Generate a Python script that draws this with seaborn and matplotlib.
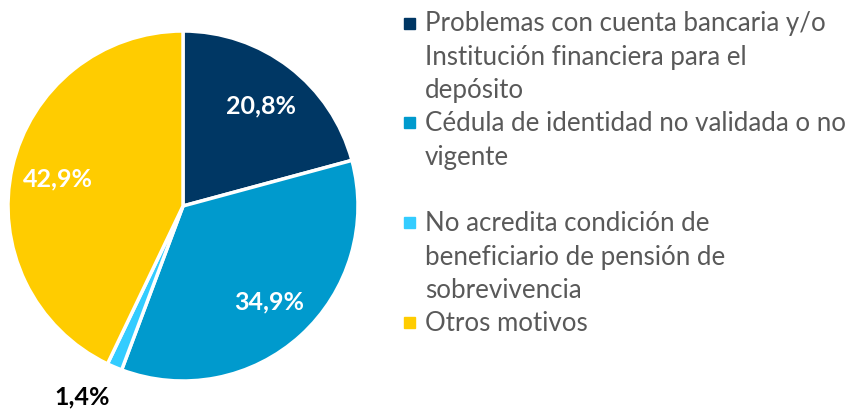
import numpy as np
import seaborn as sns
import matplotlib.pyplot as plt

# Datos
categorias = [
    "Problemas con cuenta bancaria y/o\nInstitución financiera para el\ndepósito",
    "Cédula de identidad no validada o no\nvigente\n",
    "No acredita condición de\nbeneficiario de pensión de\nsobrevivencia",
    "Otros motivos",
]
porcentajes = [20.8, 34.9, 1.4, 42.9]
etiquetas = ["20,8%", "34,9%", "1,4%", "42,9%"]
colores = ["#003764", "#009ACD", "#33CCFF", "#FFCC00"]

sns.set_theme(style="white")
plt.rcParams["font.family"] = ["Lato", "DejaVu Sans"]

fig = plt.figure(figsize=(8.49, 4.10), dpi=100)
W, H = 849, 410
cx, cy, r = 183, 207, 175
ax = fig.add_axes([(cx - r) / W, (H - cy - r) / H, 2 * r / W, 2 * r / H])

paleta = sns.color_palette(colores)
wedges, _ = ax.pie(porcentajes, colors=paleta, startangle=90, counterclock=False,
                   wedgeprops=dict(edgecolor="white", linewidth=2.5))
ax.set_aspect("equal")
ax.set_xlim(-1, 1)
ax.set_ylim(-1, 1)

# Etiquetas de porcentaje
for w, lab in zip(wedges, etiquetas):
    ang = (w.theta1 + w.theta2) / 2
    if lab == "1,4%":
        d, col = 1.23, "black"
        ang -= 5
    else:
        d, col = 0.73, "white"
    ang = np.deg2rad(ang)
    ax.text(d * np.cos(ang), d * np.sin(ang), lab, ha="center", va="center",
            fontsize=18, fontweight="bold", color=col, clip_on=False)

# Leyenda
paso = 33.3
y = 24
for col, cat in zip(paleta, categorias):
    lineas = cat.split("\n")
    fig.patches.append(plt.Rectangle((404 / W, 1 - (y + 5.5) / H), 11 / W, 11 / H,
                                     transform=fig.transFigure, color=col))
    for i, linea in enumerate(lineas):
        fig.text(425 / W, 1 - (y + i * paso) / H, linea, va="center", ha="left",
                 fontsize=18.6, color="#595959")
    y += paso * len(lineas)

fig.savefig("out.png", dpi=100)
